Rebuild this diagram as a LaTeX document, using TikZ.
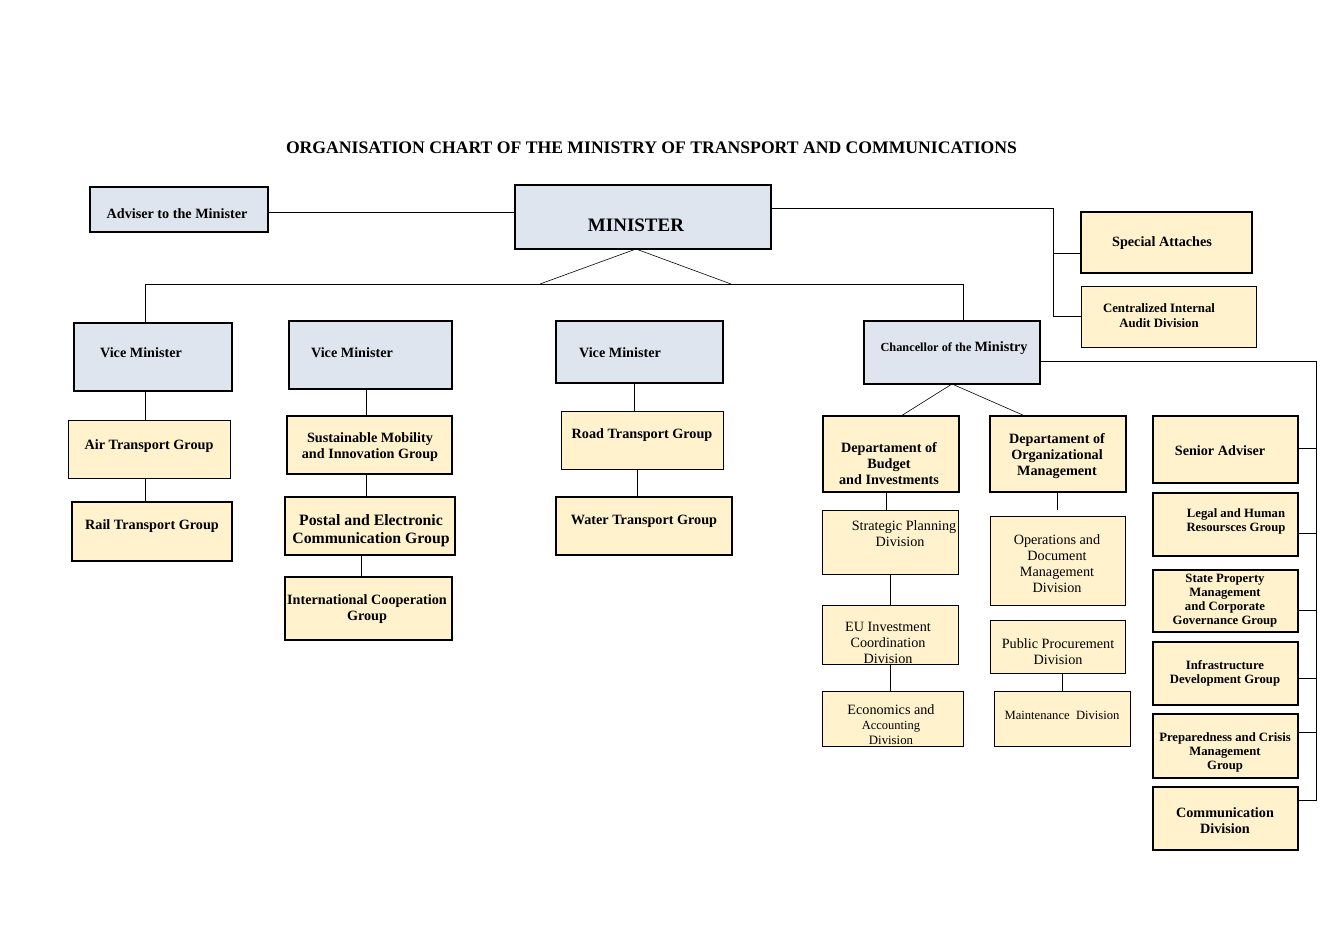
\documentclass[tikz,border=0pt]{standalone}
\usepackage{fontspec}
\setmainfont{Liberation Serif}
\definecolor{bluebox}{HTML}{DEE5EF}
\definecolor{creambox}{HTML}{FFF2CC}
\tikzset{
  thickbox/.style={draw=black, line width=1.8pt, inner sep=0pt, outer sep=0pt},
  thinbox/.style={draw=black, line width=0.9pt, inner sep=0pt, outer sep=0pt},
  blue/.style={fill=bluebox},
  cream/.style={fill=creambox},
  txt/.style={inner sep=0pt, yshift=-1.5pt, align=center, font=\bfseries\fontsize{14.2}{16}\selectfont},
  stxt/.style={inner sep=0pt, yshift=-1.5pt, align=center, font=\bfseries\fontsize{12.7}{14.5}\selectfont},
  ntxt/.style={inner sep=0pt, yshift=-1.5pt, align=center, font=\fontsize{14.2}{16}\selectfont},
  conn/.style={draw=black, line width=0.8pt},
}
\newcommand\obox[6]{\node[#6, minimum width={#4-#2}, minimum height={#5-#3}] (#1) at ({(#2+#4)/2},{(#3+#5)/2}) {};}
\begin{document}
\begin{tikzpicture}[x=1pt,y=-1pt]
\useasboundingbox (0,0) rectangle (1343,949);
% title
\node[inner sep=0pt, yshift=-1.5pt, font=\bfseries\fontsize{17.65}{20}\selectfont] (title) at (651.5,146) {ORGANISATION CHART OF THE MINISTRY OF TRANSPORT AND COMMUNICATIONS};
% boxes
\obox{adv}{90}{187}{268}{232}{thickbox,blue}
\obox{min}{515}{185}{771}{249}{thickbox,blue}
\obox{spa}{1081}{212}{1252}{273}{thickbox,cream}
\obox{cia}{1081}{286}{1256}{347}{thinbox,cream}
\obox{vma}{74}{323}{232}{391}{thickbox,blue}
\obox{vmb}{289}{321}{452}{389}{thickbox,blue}
\obox{vmc}{556}{321}{723}{383}{thickbox,blue}
\obox{chan}{864}{321}{1040}{384}{thickbox,blue}
\obox{air}{68}{420}{230}{478}{thinbox,cream}
\obox{rail}{72}{502}{232}{561}{thickbox,cream}
\obox{sus}{287}{416}{452}{474}{thickbox,cream}
\obox{post}{285}{497}{455}{555}{thickbox,cream}
\obox{intl}{285}{577}{452}{640}{thickbox,cream}
\obox{road}{561}{411}{723}{469}{thinbox,cream}
\obox{water}{556}{497}{732}{555}{thickbox,cream}
\obox{dbud}{823}{416}{959}{492}{thickbox,cream}
\obox{dorg}{990}{416}{1126}{492}{thickbox,cream}
\obox{spd}{822}{510}{958}{574}{thinbox,cream}
\obox{eud}{822}{605}{958}{664}{thinbox,cream}
\obox{ecd}{822}{691}{963}{746}{thinbox,cream}
\obox{opd}{990}{516}{1125}{605}{thinbox,cream}
\obox{ppd}{990}{620}{1125}{673}{thinbox,cream}
\obox{mnd}{994}{691}{1130}{746}{thinbox,cream}
\obox{sad}{1153}{416}{1298}{483}{thickbox,cream}
\obox{lhr}{1153}{493}{1298}{556}{thickbox,cream}
\obox{spm}{1153}{570}{1298}{632}{thickbox,cream}
\obox{idg}{1153}{642}{1298}{705}{thickbox,cream}
\obox{pcm}{1153}{714}{1298}{778}{thickbox,cream}
\obox{com}{1153}{787}{1298}{850}{thickbox,cream}
% texts
\node[txt] (adv-t) at (177,212) {Adviser to the Minister};
\node[inner sep=0pt, yshift=-1.5pt, font=\bfseries\fontsize{19}{22}\selectfont] (min-t) at (636,224) {MINISTER};
\node[txt] (spa-t) at (1162,242) {Special Attaches};
\node[stxt, font=\bfseries\fontsize{12.8}{15}\selectfont] (cia-t) at (1159,314) {Centralized Internal\\Audit Division};
\node[txt] (vma-t) at (141,351) {Vice Minister};
\node[txt] (vmb-t) at (352,351) {Vice Minister};
\node[txt] (vmc-t) at (620,351) {Vice Minister};
\node[inner sep=0pt, yshift=-1.5pt, font=\bfseries\fontsize{12.3}{15}\selectfont] (chan-t) at (954,347) {Chancellor of the {\fontsize{14.2}{15}\selectfont Ministry}};
\node[txt] (air-t) at (149,445) {Air Transport Group};
\node[txt] (rail-t) at (152,525) {Rail Transport Group};
\node[txt] (sus-t) at (370,446) {Sustainable Mobility\\and Innovation Group};
\node[txt, font=\bfseries\fontsize{15.8}{18}\selectfont] (post-t) at (371,529) {Postal and Electronic\\Communication Group};
\node[txt] (intl-t) at (367,608) {International Cooperation\\Group};
\node[txt] (road-t) at (642,434) {Road Transport Group};
\node[txt] (water-t) at (644,520) {Water Transport Group};
\node[txt] (dbud-t) at (889,462) {Departament of\\Budget\\and Investments};
\node[txt] (dorg-t) at (1057,455) {Departament of\\Organizational\\Management};
\node[ntxt] (spd-t) at (900,532) {\hspace*{8pt}Strategic Planning\\Division};
\node[ntxt] (eud-t) at (888,641) {EU Investment\\Coordination\\Division};
\node[ntxt, font=\fontsize{14.2}{15}\selectfont] (ecd-t) at (891,723) {Economics and\\{\fontsize{12.5}{14}\selectfont Accounting}\\{\fontsize{12.8}{14}\selectfont Division}};
\node[ntxt] (opd-t) at (1057,562) {Operations and\\Document\\Management\\Division};
\node[ntxt] (ppd-t) at (1058,650) {Public Procurement\\Division};
\node[ntxt, font=\fontsize{12.6}{14}\selectfont] (mnd-t) at (1062,714) {Maintenance\ \ Division};
\node[txt] (sad-t) at (1220,449) {Senior Adviser};
\node[stxt] (lhr-t) at (1236,520) {Legal and Human\\Resoursces Group};
\node[stxt, font=\bfseries\fontsize{12.7}{14}\selectfont] (spm-t) at (1225,599) {State Property\\Management\\and Corporate\\Governance Group};
\node[stxt, font=\bfseries\fontsize{12.7}{14}\selectfont] (idg-t) at (1225,672) {Infrastructure\\Development Group};
\node[stxt, font=\bfseries\fontsize{12.7}{14}\selectfont] (pcm-t) at (1225,751) {Preparedness and Crisis\\Management\\Group};
\node[txt] (com-t) at (1225,819) {Communication\\Division};
% junction coordinates
\coordinate (ja) at (1053,208);
\coordinate (hL) at (145,284);
\coordinate (hR) at (963,284);
\coordinate (d1) at (540,284);
\coordinate (d2) at (731,284);
\coordinate (mtop) at (636,249);
\coordinate (ra) at (1316,361);
\coordinate (rb) at (1316,800);
\coordinate (cb1) at (901,416);
\coordinate (cb2) at (1025,416);
% connectors
\draw[conn] (adv.east |- 0,212) -- (min.west |- 0,212);
\draw[conn] (min.east |- ja) -- (ja) -- (ja |- cia.west) -- (cia.west);
\draw[conn] (ja |- 0,253) -- (spa.west |- 0,253);
\draw[conn, line width=0.6pt] (mtop) -- (d1);
\draw[conn, line width=0.6pt] (mtop) -- (d2);
\draw[conn] (hL |- vma.north) -- (hL) -- (hR) -- (hR |- chan.north);
\draw[conn] (hL |- vma.south) -- (hL |- air.north);
\draw[conn] (hL |- air.south) -- (hL |- rail.north);
\draw[conn] (366,389) coordinate (vb1) -- (vb1 |- sus.north);
\draw[conn] (vb1 |- sus.south) -- (vb1 |- post.north);
\draw[conn] (361,555) coordinate (vb2) -- (vb2 |- intl.north);
\draw[conn] (634,383) coordinate (vc1) -- (vc1 |- road.north);
\draw[conn] (637,469) coordinate (vc2) -- (vc2 |- water.north);
\draw[conn, line width=0.6pt] (chan.south) -- (cb1);
\draw[conn, line width=0.6pt] (chan.south) -- (cb2);
\draw[conn] (886,492) coordinate (bb1) -- (bb1 |- spd.north);
\draw[conn] (890,574) coordinate (bb2) -- (bb2 |- eud.north);
\draw[conn] (bb2 |- eud.south) -- (bb2 |- ecd.north);
\draw[conn] (1057,492) coordinate (ob1) -- (1057,510);
\draw[conn] (1062,673) coordinate (ob2) -- (ob2 |- mnd.north);
\draw[conn] (chan.east |- ra) -- (ra) -- (rb) -- (com.east |- rb);
\draw[conn] (sad.east |- 0,448) -- (ra |- 0,448);
\draw[conn] (lhr.east |- 0,533) -- (ra |- 0,533);
\draw[conn] (spm.east |- 0,610) -- (ra |- 0,610);
\draw[conn] (idg.east |- 0,678) -- (ra |- 0,678);
\draw[conn] (pcm.east |- 0,732) -- (ra |- 0,732);
\end{tikzpicture}
\end{document}
